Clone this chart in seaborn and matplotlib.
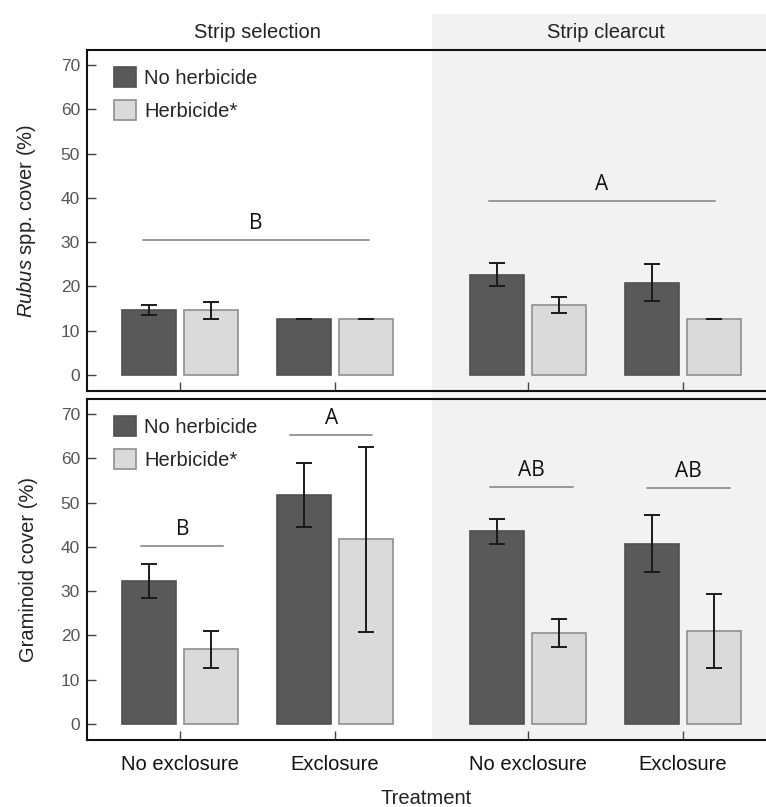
import matplotlib
matplotlib.use("Agg")
import numpy as np
import pandas as pd
import seaborn as sns
import matplotlib.pyplot as plt
import matplotlib.transforms as mtrans
from matplotlib.patches import Rectangle, Patch

# ---------------- data ----------------
sites = ["Strip selection", "Strip clearcut"]
treatments = ["No exclosure", "Exclosure", "No exclosure", "Exclosure"]
herbicide_levels = ["No herbicide", "Herbicide*"]
group_pos = [0.0, 1.0, 2.245, 3.245]   # category slots (site gap between 2nd and 3rd)

rubus_noherb = [14.7, 12.7, 22.7, 20.9]
rubus_noherb_se = [1.05, 0.0, 2.6, 4.2]
rubus_herb = [14.6, 12.7, 15.8, 12.7]
rubus_herb_se = [2.0, 0.0, 1.8, 0.0]

gram_noherb = [32.3, 51.7, 43.5, 40.7]
gram_noherb_se = [3.9, 7.3, 2.8, 6.45]
gram_herb = [16.9, 41.7, 20.6, 21.0]
gram_herb_se = [4.15, 20.9, 3.1, 8.3]

# significance letters: label, y level, x span
rubus_sig_labels = ["B", "A"]
rubus_sig_y = [30.5, 39.4]
rubus_sig_span = [(-0.24, 1.22), (1.99, 3.45)]
gram_sig_labels = ["B", "A", "AB", "AB"]
gram_sig_y = [40.2, 65.2, 53.5, 53.3]
gram_sig_span = [(-0.25, 0.28), (0.71, 1.24), (2.0, 2.535), (3.01, 3.55)]

yticks = [0, 10, 20, 30, 40, 50, 60, 70]

# ---------------- style ----------------
sns.set_theme(style="white")
plt.rcParams["font.family"] = ["Liberation Sans", "DejaVu Sans"]
plt.rcParams["mathtext.fontset"] = "custom"
plt.rcParams["mathtext.rm"] = "Liberation Sans"
plt.rcParams["mathtext.it"] = "Liberation Sans:italic"

DARK = "#595959"
LIGHT = "#dadada"
EDGE_DARK = "#505050"
EDGE_LIGHT = "#8f8f8f"
BG = "#f2f2f2"

W, H = 766, 807
fig = plt.figure(figsize=(W / 100, H / 100), dpi=100)
left = 87 / W
ax_top = fig.add_axes([left, 1 - 391 / H, 1 - left, (391 - 50) / H])
ax_bot = fig.add_axes([left, 1 - 740 / H, 1 - left, (740 - 399) / H])


def make_df(noherb, herb):
    rows = []
    for p, v in zip(group_pos, noherb):
        rows.append({"pos": p, "cover": v, "herb": herbicide_levels[0]})
    for p, v in zip(group_pos, herb):
        rows.append({"pos": p, "cover": v, "herb": herbicide_levels[1]})
    return pd.DataFrame(rows)


def draw(ax, noherb, noherb_se, herb, herb_se, sig_labels, sig_y, sig_span, ylabel):
    df = make_df(noherb, herb)
    sns.barplot(data=df, x="pos", y="cover", hue="herb", hue_order=herbicide_levels,
                palette=[DARK, LIGHT], native_scale=True, width=0.8, gap=0.125,
                errorbar=None, legend=False, ax=ax, zorder=2)
    for cont, ec in zip(ax.containers, [EDGE_DARK, EDGE_LIGHT]):
        for bar in cont:
            bar.set_edgecolor(ec)
            bar.set_linewidth(1.2)
    xs = np.array(group_pos)
    ax.errorbar(xs - 0.2, noherb, yerr=noherb_se, fmt="none", ecolor="#1a1a1a",
                elinewidth=1.4, capsize=5.5, capthick=1.4, zorder=3)
    ax.errorbar(xs + 0.2, herb, yerr=herb_se, fmt="none", ecolor="#1a1a1a",
                elinewidth=1.4, capsize=5.5, capthick=1.4, zorder=3)
    for lab, yv, (x0, x1) in zip(sig_labels, sig_y, sig_span):
        ax.plot([x0, x1], [yv, yv], color="#999999", lw=1.4, zorder=2)
        ax.text((x0 + x1) / 2, yv + 2.5, lab, ha="center", va="baseline",
                fontsize=15, family="Open Sans", color="#111111")
    ax.set_facecolor("none")
    ax.set_xlim(-0.6, 3.78)
    ax.set_ylim(-3.6, 73.4)
    ax.set_yticks(yticks)
    ax.set_xticks(group_pos)
    ax.tick_params(axis="both", direction="in", length=6.5, width=1.0, color="#444444",
                   left=True, bottom=True)
    ax.tick_params(axis="y", labelsize=12.5, labelcolor="#555555", pad=5)
    ax.tick_params(axis="x", labelsize=14.5, labelcolor="#111111", pad=11)
    for s in ["left", "top", "bottom"]:
        ax.spines[s].set_color("#111111")
        ax.spines[s].set_linewidth(1.5)
    ax.spines["right"].set_visible(False)
    ax.set_xlabel("")
    ax.set_ylabel(ylabel, fontsize=14.5, color="#222222", labelpad=16)
    handles = [Patch(facecolor=DARK, edgecolor=EDGE_DARK, lw=1.2),
               Patch(facecolor=LIGHT, edgecolor=EDGE_LIGHT, lw=1.2)]
    ax.legend(handles, herbicide_levels, loc="upper left", bbox_to_anchor=(0.028, 0.973),
              borderaxespad=0, frameon=False, fontsize=14.5, handlelength=1.1,
              handleheight=1.1, handletextpad=0.4, labelspacing=0.62)


draw(ax_top, rubus_noherb, rubus_noherb_se, rubus_herb, rubus_herb_se,
     rubus_sig_labels, rubus_sig_y, rubus_sig_span, r"$\it{Rubus}$ spp. cover (%)")
draw(ax_bot, gram_noherb, gram_noherb_se, gram_herb, gram_herb_se,
     gram_sig_labels, gram_sig_y, gram_sig_span, "Graminoid cover (%)")

ax_top.set_xticklabels([])
ax_bot.set_xticklabels(treatments)

# shaded background for the second site, spanning both rows and the title strip
tr = mtrans.blended_transform_factory(ax_top.transData, fig.transFigure)
x_split = (group_pos[1] + group_pos[2]) / 2
fig.add_artist(Rectangle((x_split, 1 - 740 / H), 10, (740 - 14) / H, transform=tr,
                         facecolor=BG, edgecolor="none", zorder=-5))

site_centers = [(group_pos[0] + group_pos[1]) / 2, (group_pos[2] + group_pos[3]) / 2]
for name, xc in zip(sites, site_centers):
    fig.text(xc, 1 - 32 / H, name, transform=tr, ha="center", va="center",
             fontsize=14.5, color="#222222")

fig.text((87 + 766) / 2 / W, 3 / H, "Treatment", ha="center", va="baseline",
         fontsize=14.5, color="#222222")

fig.savefig("out.png", dpi=100)
